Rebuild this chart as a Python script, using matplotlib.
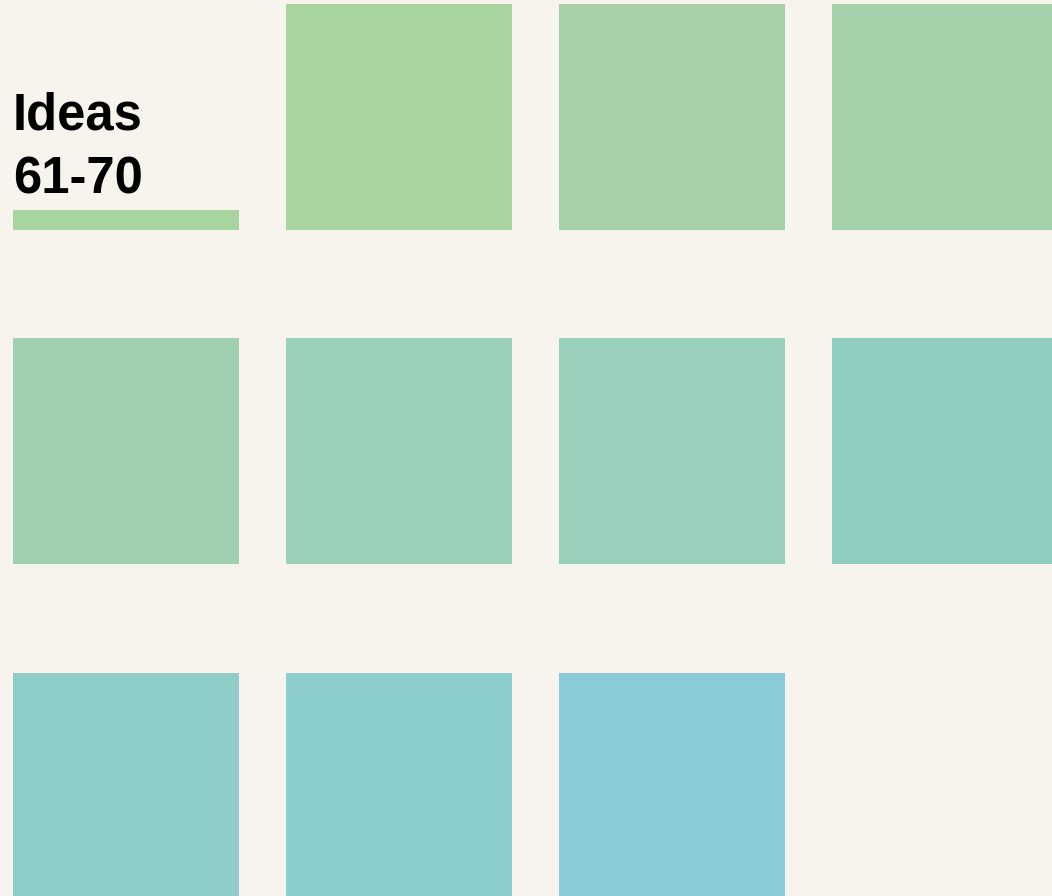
import matplotlib.pyplot as plt
from matplotlib.patches import Rectangle

# ideas 61-70, one square each; the title sits in the first cell
ideas = [61, 62, 63, 64, 65, 66, 67, 68, 69, 70]
colors = ['#a8d59e', '#a7d0a8', '#a2d1aa', '#a0d0af', '#9bd1b8',
          '#98d0bb', '#90cec2', '#8fcec8', '#8ccecc', '#89cbd6']
title_lines = ['Ideas', '61-70']
bg = '#f7f4ee'

ncols = 4
cell = 226
x0, y0 = 13, 4
dx, dy = 273, 334.5

fig = plt.figure(figsize=(10.52, 8.96), dpi=100)
fig.patch.set_facecolor(bg)
ax = fig.add_axes([0, 0, 1, 1])
ax.set_facecolor(bg)
ax.set_xlim(0, 1052)
ax.set_ylim(896, 0)
ax.axis('off')

for i, (idea, col) in enumerate(zip(ideas, colors)):
    k = i + 1  # slot 0 is the title
    r, c = divmod(k, ncols)
    ax.add_patch(Rectangle((x0 + c * dx, y0 + r * dy), cell, cell,
                           facecolor=col, edgecolor='none'))

# title block, one text per line so the baselines land where they should
for j, line in enumerate(title_lines):
    ax.text(x0, 129 + 64 * j, line, fontsize=36.5, fontweight='bold',
            family=['Liberation Sans', 'DejaVu Sans'], color='black',
            va='baseline', ha='left')
ax.add_patch(Rectangle((x0, 210), cell, 20, facecolor=colors[0], edgecolor='none'))

fig.savefig('out.png', dpi=100, facecolor=bg)
